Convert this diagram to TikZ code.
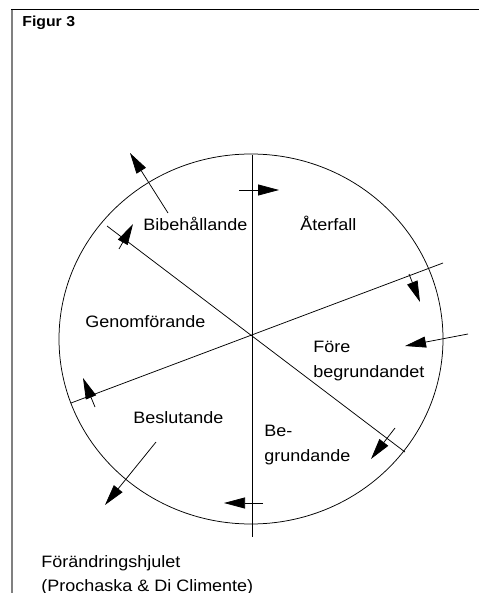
\documentclass[tikz,border=0pt]{standalone}
\usepackage{fontspec}
\setmainfont{Liberation Sans}[FakeStretch=1.09]
\usetikzlibrary{arrows.meta}

\begin{document}
\begin{tikzpicture}[x=1pt, y=-1pt, line width=0.75pt,
  every node/.style={font=\fontsize{16.5}{25}\selectfont, inner sep=0pt, anchor=base west},
  turn/.style={-{Triangle[length=21pt,width=11pt]}},
  frameline/.style={line width=0.8pt}]
  \useasboundingbox (0,0) rectangle (479,593);
  % frame
  \draw[gray, line width=2pt] (12,9) -- (12,593);
  \draw[frameline] (11,9) -- (479,9);
  \node[font=\fontsize{14.5}{17}\selectfont\bfseries] (fig) at (22,27) {Figur 3};

  % wheel
  \draw (251,339) ellipse [x radius=192pt, y radius=185pt];
  \coordinate (top) at (252,155);
  \coordinate (bot) at (252,537);
  \coordinate (ul) at (107,226);
  \coordinate (lr) at (405,452);
  \coordinate (ll) at (71,403);
  \coordinate (ur) at (443,263);
  \draw (top) -- (bot);
  \draw (ul) -- (lr);
  \draw (ll) -- (ur);

  % turning arrows on the spokes
  \coordinate (t1a) at (239,190); \coordinate (t1b) at (279,190);
  \coordinate (t2a) at (409,274); \coordinate (t2b) at (420,302);
  \coordinate (t3a) at (395,428); \coordinate (t3b) at (371,459);
  \coordinate (t4a) at (263,503); \coordinate (t4b) at (224,503);
  \coordinate (t5a) at (95,407);  \coordinate (t5b) at (83,378);
  \coordinate (t6a) at (119,249); \coordinate (t6b) at (133,224);
  \foreach \i in {1,...,6}
    \draw[turn] (t\i a) -- (t\i b);

  % stages
  \node (bib) at (143,231) {Bibehållande};
  \node (ater) at (300,230) {Återfall};
  \node (gen) at (85,327) {Genomförande};
  \node (fore1) at (313,352) {Före};
  \node (fore2) at (313,377) {begrundandet};
  \node (besl) at (133,423) {Beslutande};
  \node (begr1) at (264,436) {Be-};
  \node (begr2) at (264,461) {grundande};

  % exits and entry
  \coordinate (bibout) at (130,153);
  \coordinate (beslout) at (105,505);
  \coordinate (forein) at (468,334);
  \draw[turn] (168,213) -- (bibout);
  \draw[turn] (156,442) -- (beslout);
  \draw[turn] (forein) -- (405,346);

  \node (hjul) at (41,567) {Förändringshjulet};
  \node (src) at (41,591) {(Prochaska \& Di Climente)};
\end{tikzpicture}
\end{document}
